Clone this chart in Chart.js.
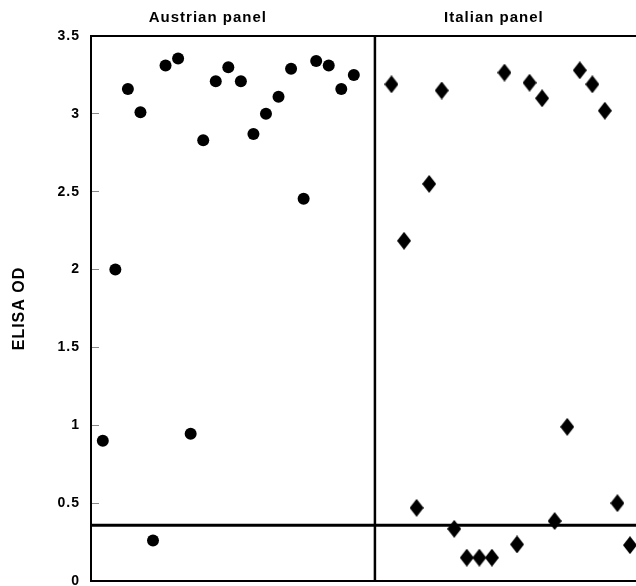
<!DOCTYPE html>
<html>
<head>
<meta charset="utf-8">
<script src="https://cdn.jsdelivr.net/npm/chart.js@4"></script>
<style>
html,body{margin:0;padding:0;background:#fff;}
#wrap{width:636px;height:586px;}
</style>
</head>
<body>
<div id="wrap"><canvas id="c" width="636" height="586"></canvas></div>
<script>
// ---- data ----
const austrianSample = [1,2,3,4,5,6,7,8,9,10,11,12,13,14,15,16,17,18,19,20,21];
const austrianOD = [0.90,2.00,3.16,3.01,0.26,3.31,3.355,0.945,2.83,3.21,3.30,3.21,2.87,3.00,3.11,3.29,2.455,3.34,3.31,3.16,3.25];
const italianSample = [1,2,3,4,5,6,7,8,9,10,11,12,13,14,15,16,17,18,19,20];
const italianOD = [3.19,2.185,0.47,2.55,3.15,0.335,0.15,0.15,0.15,3.265,0.235,3.20,3.10,0.385,0.99,3.28,3.19,3.02,0.50,0.23];
const italianOffset = 23;          // Italian samples placed after the Austrian block
const panelDivider = 22.68;        // x position of the panel separator
const cutoffOD = 0.358;            // cut-off line
const panelTitles = ['Austrian panel', 'Italian panel'];
const panelTitlePos = [9.37, 32.16];
const yTickValues = [0, 0.5, 1, 1.5, 2, 2.5, 3, 3.5];
const yTickLabels = ['0', '0.5', '1', '1.5', '2', '2.5', '3', '3.5'];
const xMin = 0.06, xMax = 43.48, yMin = 0, yMax = 3.5;

// diamond marker image
const diamond = document.createElement('canvas');
diamond.width = 14; diamond.height = 18;
(function(){
  const g = diamond.getContext('2d');
  g.fillStyle = '#000';
  g.beginPath();
  g.moveTo(7, 0); g.lineTo(14, 9); g.lineTo(7, 18); g.lineTo(0, 9);
  g.closePath(); g.fill();
})();

const spacing = {
  id: 'spacing',
  beforeLayout(c){ c.ctx.letterSpacing = '1px'; },
  beforeDraw(c){ c.ctx.letterSpacing = '1px'; }
};

function noPad(s){ s.paddingTop = 0; s.paddingBottom = 0; s.paddingLeft = 0; s.paddingRight = 0; }

const FONT = "'Liberation Sans', Arial, sans-serif";

new Chart(document.getElementById('c'), {
  type: 'scatter',
  data: {
    datasets: [
      {
        type: 'line',
        data: [{x: xMin, y: cutoffOD}, {x: xMax, y: cutoffOD}],
        borderColor: '#000', borderWidth: 3, pointRadius: 0, fill: false, clip: false
      },
      {
        type: 'line',
        data: [{x: panelDivider, y: yMin}, {x: panelDivider, y: yMax}],
        borderColor: '#000', borderWidth: 2.5, pointRadius: 0, fill: false
      },
      {
        label: 'Austrian panel',
        data: austrianSample.map((s, i) => ({x: s, y: austrianOD[i]})),
        pointStyle: 'circle', pointRadius: 6, backgroundColor: '#000',
        borderColor: '#000', borderWidth: 0, clip: false
      },
      {
        label: 'Italian panel',
        data: italianSample.map((s, i) => ({x: s + italianOffset, y: italianOD[i]})),
        pointStyle: diamond, pointRadius: 7, backgroundColor: '#000',
        borderColor: '#000', borderWidth: 0, clip: false
      }
    ]
  },
  options: {
    responsive: false,
    animation: false,
    events: [],
    layout: { padding: 0, autoPadding: false },
    plugins: { legend: { display: false }, tooltip: { enabled: false } },
    scales: {
      x: {
        type: 'linear', position: 'bottom', min: xMin, max: xMax,
        ticks: { display: false },
        grid: { display: false },
        border: { display: true, color: '#000', width: 2 },
        afterFit(s){ s.height = 5; noPad(s); }
      },
      xTop: {
        type: 'linear', position: 'top', min: xMin, max: xMax,
        afterBuildTicks(s){ s.ticks = panelTitlePos.map(v => ({value: v})); },
        ticks: {
          autoSkip: false, maxRotation: 0, minRotation: 0, padding: 9,
          color: '#000', font: { family: FONT, size: 15, weight: 'bold' },
          callback: (v, i) => panelTitles[i]
        },
        grid: { display: false, drawTicks: false },
        border: { display: true, color: '#000', width: 2 },
        afterFit(s){ s.height = 36; noPad(s); }
      },
      y: {
        type: 'linear', position: 'left', min: yMin, max: yMax,
        afterBuildTicks(s){ s.ticks = yTickValues.map(v => ({value: v})); },
        ticks: {
          autoSkip: false, padding: 19, color: '#000',
          font: { family: FONT, size: 14, weight: 'bold' },
          callback: (v, i) => yTickLabels[i]
        },
        grid: { display: true, drawOnChartArea: false, drawTicks: true, tickLength: -8, color: '#888', lineWidth: 1 },
        border: { display: true, color: '#000', width: 2 },
        title: {
          display: true, text: 'ELISA OD', color: '#000',
          font: { family: FONT, size: 16, weight: 'bold' },
          padding: { top: 10, bottom: 0 }
        },
        afterFit(s){ s.width = 91; noPad(s); }
      }
    }
  },
  plugins: [spacing]
});
</script>
</body>
</html>
